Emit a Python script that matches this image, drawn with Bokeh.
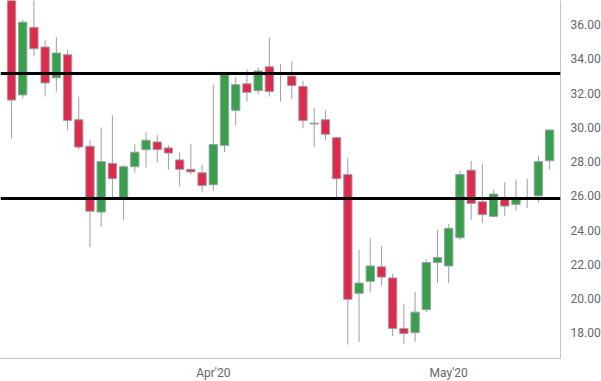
import pandas as pd
from bokeh.plotting import figure
from bokeh.models import ColumnDataSource, Range1d, Span, FixedTicker, NumeralTickFormatter
from bokeh.embed import file_html
from bokeh.resources import INLINE

# trading days Mar 6 2020 .. May 14 2020 (Good Friday closed)
dates = [d for d in pd.bdate_range("2020-03-06", "2020-05-14") if d != pd.Timestamp("2020-04-10")]

opens = [38.5, 31.9, 35.85, 34.7, 32.9, 34.25, 30.45, 28.9, 25.05, 27.9, 25.8, 27.7, 28.7, 29.15, 28.8, 28.1,
         27.55, 27.35, 26.65, 28.95, 31.0, 32.55, 32.15, 33.55, 33.15, 33.0, 32.4, 30.25, 30.45, 29.4, 27.25,
         20.3, 21.0, 21.85, 21.2, 18.25, 18.0, 19.35, 22.1, 21.9, 23.55, 27.5, 25.65, 24.8, 25.85, 25.5, 25.85,
         26.0, 28.05]
highs = [39.0, 36.3, 37.6, 35.1, 35.3, 34.55, 31.8, 29.25, 30.0, 30.7, 27.8, 29.05, 29.7, 29.55, 28.95, 28.55,
         29.05, 27.8, 32.5, 33.15, 32.95, 33.4, 33.5, 35.25, 33.7, 33.85, 32.7, 31.15, 31.0, 29.45, 28.2,
         22.85, 23.5, 23.05, 21.45, 19.7, 20.4, 22.3, 24.0, 24.35, 27.45, 28.05, 27.85, 26.35, 26.8, 26.95, 27.0,
         28.35, 29.85]
lows = [29.35, 31.7, 34.15, 31.8, 32.1, 29.85, 28.7, 23.0, 24.2, 25.75, 24.6, 27.35, 27.65, 27.95, 27.55, 26.55,
        27.25, 26.2, 26.3, 28.55, 30.1, 31.5, 31.95, 31.8, 31.5, 31.65, 29.95, 28.85, 29.25, 25.8, 17.3,
        17.45, 20.35, 20.75, 17.8, 17.35, 17.45, 19.2, 20.9, 20.9, 23.4, 24.6, 24.4, 24.75, 24.8, 25.15, 25.3,
        25.6, 27.55]
closes = [31.6, 36.15, 34.6, 32.6, 34.35, 30.4, 28.85, 25.1, 28.0, 27.0, 27.7, 28.55, 29.25, 28.7, 28.5, 27.55,
          27.4, 26.6, 29.0, 33.1, 32.5, 32.05, 33.3, 32.1, 33.1, 32.45, 30.4, 30.2, 29.6, 27.0, 19.95,
          20.9, 21.9, 21.25, 18.25, 17.95, 19.2, 22.1, 22.4, 24.1, 27.25, 25.55, 24.9, 26.1, 25.4, 25.8, 25.9,
          28.0, 29.85]

resistance = 33.15
support = 25.85
y_ticks = [18, 20, 22, 24, 26, 28, 30, 32, 34, 36]

RED = "#e3284b"
GREEN = "#35a24a"
EDGE = "#9a9ea6"

idx = list(range(len(dates)))
src = ColumnDataSource(dict(
    x=idx,
    top=[max(o, c) for o, c in zip(opens, closes)],
    bottom=[min(o, c) for o, c in zip(opens, closes)],
    high=highs,
    low=lows,
    color=[GREEN if c > o else RED for o, c in zip(opens, closes)],
))

# month ticks: first trading day of each new month
month_ticks, month_labels = [], {}
for i, d in enumerate(dates):
    if i > 0 and d.month != dates[i - 1].month:
        month_ticks.append(i)
        month_labels[i] = d.strftime("%b'%y")

p = figure(frame_width=560, frame_height=358, output_backend="svg", toolbar_location=None,
           x_range=Range1d(-0.98, 48.97), y_range=Range1d(16.49, 37.42),
           y_axis_location="right", min_border_left=0, min_border_top=0,
           min_border_right=0, min_border_bottom=0)
p.outline_line_color = None
p.xgrid.visible = False
p.ygrid.visible = False
p.background_fill_color = "white"

p.segment(x0="x", y0="low", x1="x", y1="high", source=src, line_color=EDGE, line_width=1)
p.vbar(x="x", width=0.74, top="top", bottom="bottom", source=src,
       fill_color="color", line_color=EDGE, line_width=1)

for lvl in (resistance, support):
    p.add_layout(Span(location=lvl, dimension="width", line_color="black", line_width=3))

for ax in (p.xaxis[0], p.yaxis[0]):
    ax.axis_line_color = "#c4c4c4"
    ax.axis_line_width = 1
    ax.major_tick_line_color = None
    ax.minor_tick_line_color = None
    ax.major_label_text_font = "Roboto"
    ax.major_label_text_font_size = "12px"
    ax.major_label_text_color = "#666666"

p.xaxis.ticker = FixedTicker(ticks=month_ticks)
p.xaxis.major_label_overrides = month_labels
p.xaxis.major_label_standoff = 1
p.yaxis.ticker = FixedTicker(ticks=y_ticks)
p.yaxis.formatter = NumeralTickFormatter(format="0.00")
p.yaxis.major_label_standoff = 4

open("out.html", "w").write(file_html(p, INLINE))
